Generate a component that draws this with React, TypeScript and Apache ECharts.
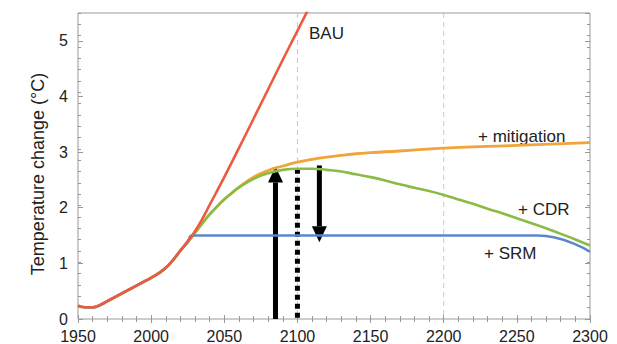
import React, { useEffect, useRef } from "react";
import * as echarts from "echarts";

// Shared historical warming (°C)
const historyYears = [1950, 1955, 1960, 1965, 1970, 1975, 1980, 1985, 1990, 1995, 2000, 2005, 2010, 2015, 2020];
const historyTemp = [0.24, 0.21, 0.21, 0.25, 0.32, 0.39, 0.46, 0.53, 0.6, 0.67, 0.74, 0.82, 0.92, 1.06, 1.23];

// Business as usual
const bauYears = [2025, 2030, 2035, 2040, 2045, 2050, 2060, 2070, 2080, 2090, 2100, 2110];
const bauTemp = [1.4, 1.58, 1.8, 2.05, 2.3, 2.55, 3.07, 3.6, 4.13, 4.66, 5.18, 5.7];

// + mitigation
const mitYears = [2025, 2030, 2035, 2040, 2045, 2050, 2055, 2060, 2070, 2080, 2090, 2100, 2110, 2120, 2130, 2140, 2150, 2170, 2200, 2250, 2300];
const mitTemp = [1.38, 1.55, 1.72, 1.88, 2.02, 2.15, 2.26, 2.37, 2.55, 2.67, 2.75, 2.82, 2.87, 2.91, 2.94, 2.97, 2.99, 3.02, 3.07, 3.12, 3.17];

// + CDR
const cdrYears = [2025, 2030, 2035, 2040, 2045, 2050, 2055, 2060, 2070, 2080, 2090, 2100, 2110, 2120, 2130, 2140, 2150, 2160, 2170, 2180, 2190, 2200, 2210, 2220, 2230, 2240, 2250, 2260, 2270, 2280, 2290, 2300];
const cdrTemp = [1.38, 1.55, 1.72, 1.88, 2.02, 2.15, 2.26, 2.36, 2.52, 2.62, 2.68, 2.7, 2.7, 2.68, 2.65, 2.6, 2.55, 2.49, 2.42, 2.36, 2.3, 2.23, 2.15, 2.07, 1.98, 1.9, 1.81, 1.72, 1.63, 1.53, 1.43, 1.32];

// + SRM
const srmYears = [2025, 2028, 2100, 2200, 2264, 2300];
const srmTemp = [1.38, 1.5, 1.5, 1.5, 1.5, 1.21];

// Arrows / marker: [year, from, to]
const upArrow = [2085, 0, 2.74];
const downArrow = [2115, 2.76, 1.38];
const dottedMarker = [2100, 0, 2.7];
const gridYears = [2100, 2200];

const xTickInterval = 50;
const yTickInterval = 1;

const zip = (xs: number[], ys: number[]) => xs.map((x, i) => [x, ys[i]]);

const FONT = "Liberation Sans";

export default function App() {
  const ref = useRef<HTMLDivElement>(null);
  useEffect(() => {
    document.body.style.margin = "0";
    if (!ref.current) return;
    const chart = echarts.init(ref.current, undefined, { renderer: "svg" });

    const hist = zip(historyYears, historyTemp);
    const tickColor = "#999";

    const xBase = (pos: "top" | "bottom", labels: boolean) => ({
      type: "value",
      position: pos,
      min: 1950,
      max: 2300,
      interval: xTickInterval,
      axisLine: { show: false },
      splitLine: { show: false },
      axisTick: { show: true, inside: true, length: 4, lineStyle: { color: tickColor } },
      minorTick: { show: true, splitNumber: 5, length: 3, lineStyle: { color: tickColor } },
      axisLabel: {
        show: labels,
        margin: 9,
        fontSize: 16,
        color: "#222",
        fontFamily: FONT,
        formatter: (v: number) => String(v),
      },
    });
    const yMain = (pos: "left" | "right", labels: boolean) => ({
      type: "value",
      position: pos,
      min: 0,
      max: 5.5,
      interval: yTickInterval,
      axisLine: { show: false, onZero: false },
      splitLine: { show: false },
      axisTick: { show: true, inside: true, length: 5, lineStyle: { color: tickColor } },
      axisLabel: { show: labels, showMaxLabel: false, margin: 10, fontSize: 16, color: "#222", fontFamily: FONT },
    });
    const yMinor = (pos: "left" | "right") => ({
      type: "value",
      position: pos,
      min: 0,
      max: 5.4,
      interval: 0.2,
      axisLine: { show: false, onZero: false },
      splitLine: { show: false },
      axisTick: { show: true, inside: true, length: 3, lineStyle: { color: tickColor } },
      axisLabel: { show: false },
    });

    const arrowRender = (params: any, api: any) => {
      const x = api.value(0), y0 = api.value(1), y1 = api.value(2);
      const p0 = api.coord([x, y0]);
      const p1 = api.coord([x, y1]);
      const dir = p1[1] < p0[1] ? -1 : 1;
      const headH = 16, headW = 15, shaftW = 5;
      const baseY = p1[1] - dir * headH;
      return {
        type: "group",
        children: [
          {
            type: "rect",
            shape: { x: p0[0] - shaftW / 2, y: Math.min(p0[1], baseY), width: shaftW, height: Math.abs(baseY - p0[1]) },
            style: { fill: "#000" },
          },
          {
            type: "polygon",
            shape: { points: [[p1[0], p1[1]], [p1[0] - headW / 2, baseY], [p1[0] + headW / 2, baseY]] },
            style: { fill: "#000" },
          },
        ],
      };
    };

    const lineRender = (params: any, api: any) => {
      const x = api.value(0), y0 = api.value(1), y1 = api.value(2);
      const pTop = api.coord([x, Math.max(y0, y1)]);
      const pBot = api.coord([x, Math.min(y0, y1)]);
      return {
        type: "line",
        shape: { x1: pTop[0], y1: pTop[1], x2: pBot[0], y2: pBot[1] },
        style: { stroke: "#000", lineWidth: 5, lineDash: [5, 4] },
      };
    };

    const gridRender = (params: any, api: any) => {
      const x = api.value(0);
      const pTop = api.coord([x, 5.5]);
      const pBot = api.coord([x, 0]);
      return {
        type: "line",
        shape: { x1: pTop[0], y1: pTop[1], x2: pBot[0], y2: pBot[1] },
        style: { stroke: "#c8c8c8", lineWidth: 1, lineDash: [5, 4] },
      };
    };

    const lineSeries = (name: string, data: number[][], color: string, width: number) => ({
      type: "line",
      name,
      data,
      showSymbol: false,
      smooth: 0.5,
      lineStyle: { color, width },
      itemStyle: { color },
      clip: true,
    });

    const textStyle = { font: `17px "${FONT}"`, fill: "#222", verticalAlign: "middle" };

    chart.setOption({
      animation: false,
      grid: { left: 78, right: 27, top: 13, bottom: 21, show: true, borderColor: "#999", borderWidth: 1, backgroundColor: "transparent" },
      xAxis: [xBase("bottom", true), xBase("top", false)],
      yAxis: [yMain("left", true), yMinor("left"), yMain("right", false), yMinor("right")],
      series: [
        {
          type: "custom",
          renderItem: gridRender,
          data: gridYears.map((y) => [y]),
          encode: { x: 0 },
          silent: true,
        },
        lineSeries("+ mitigation", [...hist, ...zip(mitYears, mitTemp)], "#F0A43A", 2.8),
        lineSeries("+ CDR", [...hist, ...zip(cdrYears, cdrTemp)], "#8CBB45", 2.6),
        lineSeries("+ SRM", [...hist, ...zip(srmYears, srmTemp)], "#5B87C9", 2.4),
        lineSeries("BAU", [...hist, ...zip(bauYears, bauTemp)], "#EB5B43", 2.6),
        {
          type: "custom",
          renderItem: lineRender,
          data: [dottedMarker],
          encode: { x: 0, y: [1, 2] },
          silent: true,
        },
        {
          type: "custom",
          renderItem: arrowRender,
          data: [upArrow, downArrow],
          encode: { x: 0, y: [1, 2] },
          silent: true,
        },
      ],
      graphic: [
        { type: "text", x: 309, y: 33, style: { text: "BAU", ...textStyle } },
        { type: "text", x: 478, y: 136, style: { text: "+ mitigation", ...textStyle } },
        { type: "text", x: 518, y: 209, style: { text: "+ CDR", ...textStyle } },
        { type: "text", x: 484, y: 253, style: { text: "+ SRM", ...textStyle } },
        {
          type: "text",
          x: 38,
          y: 174,
          rotation: Math.PI / 2,
          style: { text: "Temperature change (°C)", font: `18px "${FONT}"`, fill: "#222", align: "center", verticalAlign: "middle" },
        },
      ],
    });
    return () => chart.dispose();
  }, []);
  return <div ref={ref} style={{ width: 617, height: 344 }} />;
}
